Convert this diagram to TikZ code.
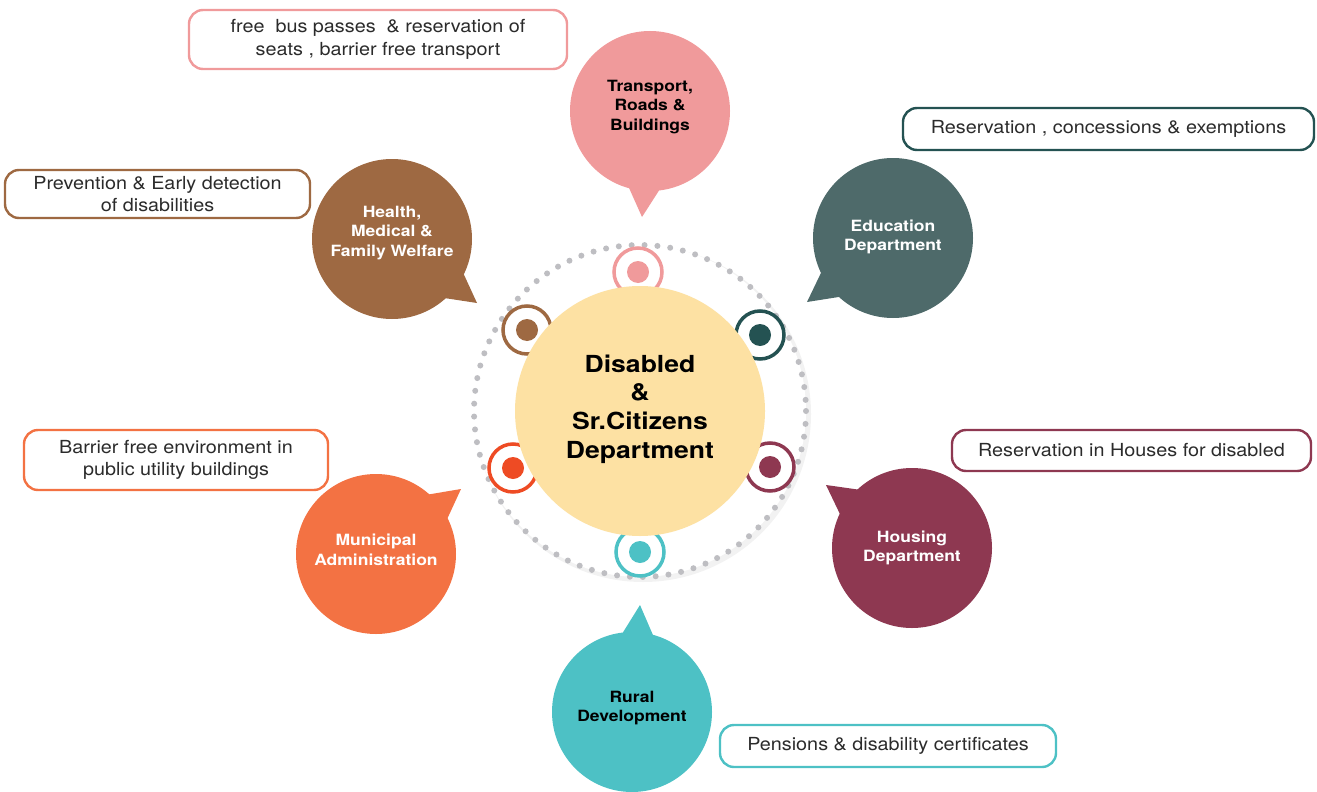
\documentclass[tikz,border=0pt]{standalone}
\usepackage{fontspec}
\setmainfont{TeX Gyre Heros}
\newfontfamily\bubfont[FakeStretch=1.13]{TeX Gyre Heros}
\newfontfamily\boxfont[FakeStretch=1.1]{TeX Gyre Heros}
\usepackage{tikz}
\usetikzlibrary{calc,positioning}

\definecolor{trpink}{HTML}{F09A9B}
\definecolor{hlbrown}{HTML}{9E6942}
\definecolor{edslate}{HTML}{4E6A6A}
\definecolor{edring}{HTML}{245252}
\definecolor{hsmaroon}{HTML}{8E3851}
\definecolor{muorange}{HTML}{F37243}
\definecolor{muring}{HTML}{EE4B24}
\definecolor{rucyan}{HTML}{4DC1C5}
\definecolor{cnyellow}{HTML}{FDE1A3}
\definecolor{dotgrey}{HTML}{BEBEC2}
\definecolor{txtgrey}{HTML}{2B2B2B}

% speech bubble: name, centre, tail tip, colour, text colour, text lift, label
\newcommand{\bubble}[7]{
  \coordinate (#1c) at #2;
  \coordinate (#1t) at #3;
  \fill[#4] (#1t) -- ($(#1c)!78pt!12:(#1t)$) -- ($(#1c)!78pt!-12:(#1t)$) -- cycle;
  \fill[#4] (#1c) circle (80);
  \node[bub, text=#5] (#1) at ($(#1c)+(0,-#6)$) {#7};
}
% ring round the centre
\newcommand{\ring}[3]{
  \node[ringout, draw=#3] (#1) at #2 {};
  \node[ringin, fill=#3] at (#1) {};
}

\begin{document}
\begin{tikzpicture}[x=1pt,y=-1pt,
    bub/.style={inner sep=0pt, align=center,
      font=\bubfont\fontsize{15.5}{19.5}\selectfont\bfseries},
    infobox/.style={draw, line width=2.4pt, rounded corners=14pt, fill=white,
      inner sep=0pt, align=center, text=txtgrey,
      font=\boxfont\fontsize{18}{22.5}\selectfont},
    ringout/.style={circle, line width=3.5pt, fill=white, minimum size=48pt, inner sep=0pt},
    ringin/.style={circle, minimum size=22pt, inner sep=0pt}]
\useasboundingbox (0,0) rectangle (1317,792);

% dotted ring and small rings
\coordinate (hub) at (640,411);
\fill[black!5] ($(hub)+(3,3)$) circle (168);
\fill[white] (hub) circle (166);
\draw[dotgrey, line width=6pt, line cap=round, dash pattern=on 0pt off 12.9pt] (hub) circle (166);
\ring{rtr}{(638,272)}{trpink}
\ring{rhl}{(527,330)}{hlbrown}
\ring{red}{(760,335)}{edring}
\ring{rmu}{(513,468)}{muring}
\ring{rhs}{(770,467)}{hsmaroon}
\ring{rru}{(640,552)}{rucyan}
\fill[cnyellow] (hub) circle (125);
\node[align=center, inner sep=0pt,
  font=\bubfont\fontsize{23.5}{28.7}\selectfont\bfseries] (dept) at ($(hub)+(0,-2)$)
  {Disabled\\\&\\Sr.Citizens\\Department};

% departments
\bubble{tr}{(650,111)}{(642,217)}{trpink}{black}{4}{Transport,\\Roads \&\\Buildings}
\bubble{hl}{(392,239)}{(477,303)}{hlbrown}{white}{6}{Health,\\Medical \&\\Family Welfare}
\bubble{ed}{(893,238)}{(807,302)}{edslate}{white}{1}{Education\\Department}
\bubble{hs}{(912,548)}{(826,485)}{hsmaroon}{white}{0}{Housing\\Department}
\bubble{mu}{(376,554)}{(461,489)}{muorange}{white}{4}{Municipal\\Administration}
\bubble{ru}{(632,712)}{(640,605)}{rucyan}{black}{4}{Rural\\Development}

% benefits
\node[infobox, draw=trpink, minimum width=378pt, minimum height=59pt] (btr) at (378,39.5)
  {free\ \ bus passes\ \ \& reservation of\\seats , barrier free transport};
\node[infobox, draw=edring, minimum width=411pt, minimum height=42pt] (bed) at (1108.5,129)
  {Reservation , concessions \& exemptions};
\node[infobox, draw=hlbrown, minimum width=305pt, minimum height=48pt] (bhl) at (157.5,194)
  {Prevention \& Early detection\\of disabilities};
\node[infobox, draw=muorange, minimum width=304pt, minimum height=60pt] (bmu) at (176,460)
  {Barrier free environment in\\public utility buildings};
\node[infobox, draw=hsmaroon, minimum width=359pt, minimum height=41pt] (bhs) at (1131.5,450.5)
  {Reservation in Houses for disabled};
\node[infobox, draw=rucyan, minimum width=336pt, minimum height=42pt] (bru) at (888,746)
  {Pensions \& disability certificates};
\end{tikzpicture}
\end{document}
